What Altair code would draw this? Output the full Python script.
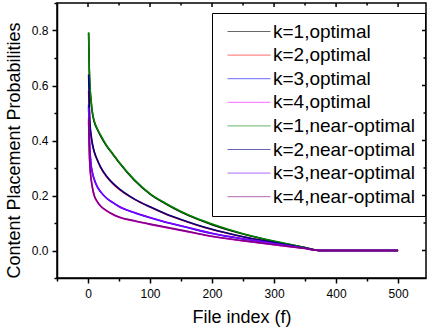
import altair as alt
import pandas as pd

f_vals = [1, 2, 3, 5, 7, 10, 15, 20, 30, 40, 50, 75, 100, 125, 150, 175, 200, 250, 300, 350, 375, 400, 450, 500]

k1_opt  = [0.79, 0.66, 0.60, 0.54, 0.50, 0.468, 0.44, 0.418, 0.38, 0.35, 0.32, 0.255, 0.205, 0.17, 0.14, 0.115, 0.094, 0.06, 0.033, 0.011, 0, 0, 0, 0]
k2_opt  = [0.58, 0.51, 0.46, 0.415, 0.385, 0.358, 0.328, 0.303, 0.268, 0.243, 0.223, 0.186, 0.158, 0.133, 0.112, 0.093, 0.076, 0.05, 0.029, 0.009, 0, 0, 0, 0]
k3_opt  = [0.53, 0.42, 0.365, 0.31, 0.283, 0.258, 0.231, 0.214, 0.19, 0.174, 0.16, 0.137, 0.119, 0.103, 0.089, 0.075, 0.062, 0.042, 0.025, 0.008, 0, 0, 0, 0]
k4_opt  = [0.47, 0.365, 0.31, 0.26, 0.23, 0.2, 0.177, 0.162, 0.144, 0.131, 0.121, 0.107, 0.095, 0.084, 0.073, 0.062, 0.051, 0.035, 0.021, 0.007, 0, 0, 0, 0]
k1_near = [0.794, 0.665, 0.605, 0.545, 0.505, 0.472, 0.443, 0.421, 0.382, 0.352, 0.322, 0.257, 0.207, 0.172, 0.142, 0.117, 0.096, 0.061, 0.034, 0.011, 0, 0, 0, 0]
k2_near = [0.64, 0.53, 0.47, 0.42, 0.39, 0.36, 0.33, 0.305, 0.27, 0.245, 0.225, 0.187, 0.159, 0.134, 0.113, 0.094, 0.077, 0.05, 0.029, 0.009, 0, 0, 0, 0]
k3_near = [0.52, 0.42, 0.37, 0.31, 0.285, 0.26, 0.232, 0.215, 0.19, 0.175, 0.16, 0.138, 0.12, 0.104, 0.09, 0.076, 0.063, 0.043, 0.025, 0.008, 0, 0, 0, 0]
k4_near = [0.48, 0.37, 0.31, 0.26, 0.23, 0.2, 0.178, 0.163, 0.145, 0.132, 0.122, 0.108, 0.096, 0.085, 0.074, 0.063, 0.052, 0.036, 0.021, 0.007, 0, 0, 0, 0]

series_names = ["k=1,optimal", "k=2,optimal", "k=3,optimal", "k=4,optimal",
                "k=1,near-optimal", "k=2,near-optimal", "k=3,near-optimal", "k=4,near-optimal"]
series_vals = [k1_opt, k2_opt, k3_opt, k4_opt, k1_near, k2_near, k3_near, k4_near]
series_colors = ["#000000", "#FF0000", "#0000FF", "#FF00FF", "#008000", "#000080", "#8000FF", "#800080"]

x_ticks = [-50, 0, 50, 100, 150, 200, 250, 300, 350, 400, 450, 500]
y_ticks = [-0.1, 0.0, 0.1, 0.2, 0.3, 0.4, 0.5, 0.6, 0.7, 0.8, 0.9]
x_major_top = [0, 100, 200, 300, 400, 500]
x_minor_top = [50, 150, 250, 350, 450]
y_major_right = [0.0, 0.2, 0.4, 0.6, 0.8]
y_minor_right = [0.1, 0.3, 0.5, 0.7]

rows = []
for order, (name, vals) in enumerate(zip(series_names, series_vals)):
    for f, v in zip(f_vals, vals):
        rows.append({"f": f, "p": v, "series": name, "ord": order})
df = pd.DataFrame(rows)

W, H = 369, 275
FONT = "Liberation Sans"

xscale = alt.Scale(domain=[-50, 545], nice=False, zero=False)
yscale = alt.Scale(domain=[-0.1, 0.9], nice=False, zero=False)

x_axis = alt.Axis(
    values=x_ticks, title="File index (f)", grid=False,
    labelExpr="datum.value % 100 === 0 ? datum.label : ''",
    tickSize={"condition": {"test": "datum.value % 100 === 0", "value": 5}, "value": 3},
    labelPadding=5, titlePadding=9,
)
y_axis = alt.Axis(
    values=y_ticks, title="Content Placement Probabilities", grid=False, format=".1f",
    labelExpr="round(datum.value * 10) % 2 === 0 ? datum.label : ''",
    tickSize={"condition": {"test": "round(datum.value * 10) % 2 === 0", "value": 5}, "value": 3},
    labelPadding=4, titlePadding=8, titleY=147,
)

lines = alt.Chart(df).mark_line(strokeWidth=1.6, interpolate="monotone", clip=True).encode(
    x=alt.X("f:Q", scale=xscale, axis=x_axis),
    y=alt.Y("p:Q", scale=yscale, axis=y_axis),
    color=alt.Color(
        "series:N",
        scale=alt.Scale(domain=series_names, range=series_colors),
        legend=alt.Legend(
            title=None, orient="none", legendX=155, legendY=10,
            symbolType="M-1,0H13.33", symbolSize=36, symbolStrokeWidth=0.6,
            symbolFillColor="transparent", symbolOpacity=1,
            labelFont=FONT, labelFontSize=19, labelColor="black", labelOffset=33,
            rowPadding=3.6, padding=9, strokeColor="black", labelLimit=300,
        ),
    ),
    detail="series:N",
    order=alt.Order("ord:Q"),
)

top_major = alt.Chart(pd.DataFrame({"f": x_major_top})).mark_rule(color="black", strokeWidth=1.5).encode(
    x=alt.X("f:Q", scale=xscale, axis=x_axis), y=alt.value(0), y2=alt.value(4))
top_minor = alt.Chart(pd.DataFrame({"f": x_minor_top})).mark_rule(color="black", strokeWidth=1.5).encode(
    x=alt.X("f:Q", scale=xscale, axis=x_axis), y=alt.value(0), y2=alt.value(2.5))
right_major = alt.Chart(pd.DataFrame({"p": y_major_right})).mark_rule(color="black", strokeWidth=1.5).encode(
    y=alt.Y("p:Q", scale=yscale, axis=y_axis), x=alt.value(W - 4), x2=alt.value(W))
right_minor = alt.Chart(pd.DataFrame({"p": y_minor_right})).mark_rule(color="black", strokeWidth=1.5).encode(
    y=alt.Y("p:Q", scale=yscale, axis=y_axis), x=alt.value(W - 2.5), x2=alt.value(W))

chart = alt.layer(lines, top_major, top_minor, right_major, right_minor).properties(
    width=W, height=H,
    background="white",
    autosize=alt.AutoSizeParams(type="none"),
    padding={"left": 57, "top": 3, "right": 1, "bottom": 54},
).configure_view(
    stroke="black", strokeWidth=1.5
).configure_axis(
    labelFont=FONT, labelFontSize=12, labelColor="black",
    titleFont=FONT, titleFontSize=18, titleFontWeight="normal", titleColor="black",
    domainColor="black", domainWidth=1.5, tickColor="black", tickWidth=1.5,
)

chart.save("out.html", embed_options={"renderer": "svg", "actions": False})
